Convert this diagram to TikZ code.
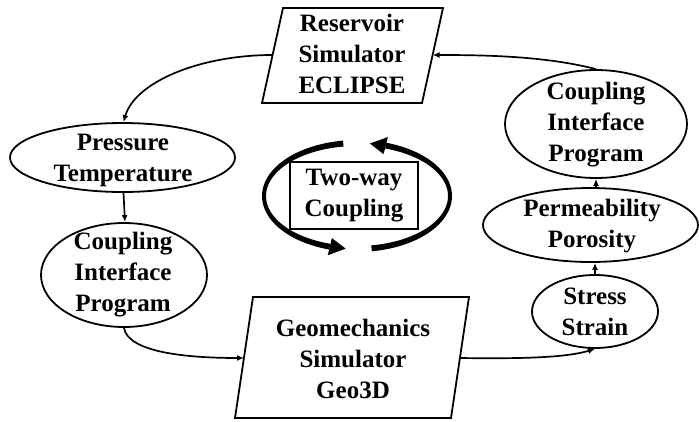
\documentclass[tikz,border=0pt]{standalone}
\usepackage{fontspec}
\setmainfont{Liberation Serif}
\usetikzlibrary{shapes.geometric,arrows.meta}
\begin{document}
\begin{tikzpicture}[x=1pt,y=-1pt,
  txt/.style={font=\bfseries\fontsize{25}{31}\selectfont,align=center,inner sep=0pt},
  ell/.style={ellipse,draw,line width=1.8pt,inner sep=0pt},
  para/.style={draw,line width=1.8pt,line join=miter},
  conn/.style={line width=1.7pt,-{Latex[length=7pt,width=6pt]}}]
\useasboundingbox (0,0) rectangle (699,421);
% Reservoir parallelogram
\coordinate (r1) at (283,8); \coordinate (r2) at (443,8);
\coordinate (r3) at (422,103); \coordinate (r4) at (262,103);
\draw[para] (r1) -- (r2) -- (r3) -- (r4) -- cycle;
\coordinate (resL) at (272.6,55); \coordinate (resR) at (432.6,55);
\node[txt] (resT) at (352,54) {Reservoir\\Simulator\\ECLIPSE};
% Geomechanics parallelogram
\coordinate (g1) at (253,297); \coordinate (g2) at (469,297);
\coordinate (g3) at (451,418); \coordinate (g4) at (235,418);
\draw[para] (g1) -- (g2) -- (g3) -- (g4) -- cycle;
\coordinate (geoL) at (244,358); \coordinate (geoR) at (460,358);
\node[txt] (geoT) at (353,359) {Geomechanics\\Simulator\\Geo3D};
% Left ellipses
\node[ell,minimum width=225pt,minimum height=69pt] (pt) at (122.5,157.5) {};
\node[txt] (ptT) at (123,160) {Pressure\\Temperature};
\node[ell,minimum width=166pt,minimum height=104pt] (cl) at (124,275) {};
\node[txt] (clT) at (123,275) {Coupling\\Interface\\Program};
% Right ellipses
\node[ell,minimum width=182pt,minimum height=108pt] (cr) at (596,124) {};
\node[txt] (crT) at (596,125) {Coupling\\Interface\\Program};
\node[ell,minimum width=215pt,minimum height=74pt] (pp) at (590.5,225) {};
\node[txt] (ppT) at (592,226) {Permeability\\Porosity};
\node[ell,minimum width=126pt,minimum height=73pt] (ss) at (595,311.5) {};
\node[txt] (ssT) at (595,312) {Stress\\Strain};
% Two-way box
\node[txt,draw,line width=1.8pt,minimum width=128pt,minimum height=67pt] (tw) at (354,195.5) {Two-way\\Coupling};
% circular arrows
\fill plot[domain=98.5:253,samples=60,variable=\t] ({357+95*cos(\t)},{196-56*sin(\t)})
  -- plot[domain=98.5:253,samples=60,variable=\t] ({357+91*cos(351.5-\t)},{196-50*sin(351.5-\t)}) -- cycle;
\fill ({357+100*cos(253)},{196-62*sin(253)}) -- ({357+93*cos(263)},{196-53*sin(263)}) -- ({357+86*cos(253)},{196-44*sin(253)}) -- cycle;
\fill plot[domain=-81:72,samples=60,variable=\t] ({357+95*cos(\t)},{196-56*sin(\t)})
  -- plot[domain=-81:72,samples=60,variable=\t] ({357+91*cos(-9-\t)},{196-50*sin(-9-\t)}) -- cycle;
\fill ({357+100*cos(72)},{196-62*sin(72)}) -- ({357+93*cos(82)},{196-53*sin(82)}) -- ({357+86*cos(72)},{196-44*sin(72)}) -- cycle;
% connectors
\draw[conn] (resL) .. controls (200,55) and (135,82) .. ([xshift=1pt]pt.north);
\draw[conn] ([xshift=1pt]pt.south) -- ([xshift=1pt]cl.north);
\draw[conn] (cl.south) .. controls (128,352) and (185,358) .. (geoL);
\draw[conn] (geoR) .. controls (530,359) and (568,357) .. (ss.south);
\draw[conn] (ss.north) -- (ss.north |- pp.south);
\draw[conn] (cr.south |- pp.north) -- (cr.south);
\draw[conn] (cr.north) .. controls (545,56) and (485,55) .. (resR);
\end{tikzpicture}
\end{document}
